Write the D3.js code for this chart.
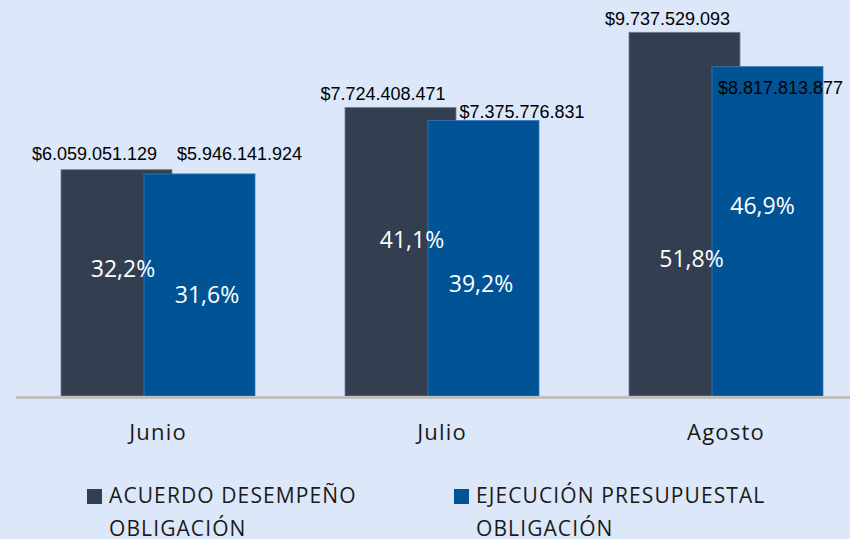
<!DOCTYPE html>
<html>
<head>
<meta charset="utf-8">
<script src="https://cdn.jsdelivr.net/npm/d3@7"></script>
<style>
  html, body { margin: 0; padding: 0; background: #dce8f9; }
  svg { display: block; }
</style>
</head>
<body>
<svg id="chart" width="850" height="539"></svg>
<script>
// ---- data ----
const categories = ["Junio", "Julio", "Agosto"];
const seriesNames = ["ACUERDO DESEMPEÑO OBLIGACIÓN", "EJECUCIÓN PRESUPUESTAL OBLIGACIÓN"];
const acuerdoValues = [6059051129, 7724408471, 9737529093];
const ejecucionValues = [5946141924, 7375776831, 8817813877];
const acuerdoPct = ["32,2%", "41,1%", "51,8%"];
const ejecucionPct = ["31,6%", "39,2%", "46,9%"];

// ---- layout tweaks (label placement, not data) ----
const valueLabelNudge = [
  [[-22, -10], [-17.5, -7], [-17, -7]],
  [[40, -14], [38.5, -3], [13, 27]]
];
const pctLabelPlace = [
  [[6.5, 0.527], [11.5, 0.514], [7, 0.355]],
  [[7.5, 0.42], [-2.5, 0.378], [-5, 0.552]]
];

const colors = ["#333f50", "#005496"];
const strokes = ["#6f7f95", "#3b78b8"];

const svg = d3.select("#chart");
const W = 850, H = 539;
const baseY = 396;

const x = d3.scaleBand().domain(categories).range([16, 868]).paddingInner(0).paddingOuter(0);
const y = d3.scaleLinear().domain([0, 1e10]).range([baseY, baseY - 373.5]);

const groupW = 194, barW = 111;
const offset = groupW - barW;

const loc = d3.formatLocale({decimal: ",", thousands: ".", grouping: [3], currency: ["$", ""]});
const fmt = loc.format("$,.0f");

const series = [acuerdoValues, ejecucionValues];
const pcts = [acuerdoPct, ejecucionPct];

// bars
series.forEach((vals, si) => {
  svg.append("g").selectAll("rect")
    .data(vals)
    .join("rect")
    .attr("x", (d, i) => x(categories[i]) + x.bandwidth() / 2 - groupW / 2 + si * offset)
    .attr("y", d => y(d))
    .attr("width", barW)
    .attr("height", d => baseY - y(d))
    .attr("fill", colors[si])
    .attr("stroke", strokes[si])
    .attr("stroke-width", 0.8);
});

// axis line
const axis = d3.axisBottom(x).tickSize(0).tickPadding(0);
const ax = svg.append("g").attr("transform", `translate(0,${baseY + 1.5})`).call(axis);
ax.select(".domain").remove();
ax.append("line").attr("x1", 16).attr("x2", 850).attr("y1", 0).attr("y2", 0)
  .attr("stroke", "#bfbfbf").attr("stroke-width", 3);
ax.selectAll(".tick text")
  .attr("y", 440 - baseY - 1.5)
  .attr("dy", 0)
  .attr("fill", "#1a1a1a")
  .style("font-family", "'Open Sans', sans-serif")
  .style("font-size", "22px")
  .style("letter-spacing", "1.2px")
  .style("font-weight", "400");

// value labels
series.forEach((vals, si) => {
  svg.append("g").selectAll("text")
    .data(vals)
    .join("text")
    .attr("x", (d, i) => x(categories[i]) + x.bandwidth() / 2 - groupW / 2 + si * offset + barW / 2 + valueLabelNudge[si][i][0])
    .attr("y", (d, i) => y(d) + valueLabelNudge[si][i][1])
    .attr("text-anchor", "middle")
    .attr("fill", "#000")
    .style("font-family", "'Liberation Sans', Arial, sans-serif")
    .style("font-size", "18px")
    .text(d => fmt(d));
});

// percentage labels
series.forEach((vals, si) => {
  svg.append("g").selectAll("text")
    .data(vals)
    .join("text")
    .attr("x", (d, i) => x(categories[i]) + x.bandwidth() / 2 - groupW / 2 + si * offset + barW / 2 + pctLabelPlace[si][i][0])
    .attr("y", (d, i) => y(d * pctLabelPlace[si][i][1]))
    .attr("text-anchor", "middle")
    .attr("fill", "#ffffff")
    .style("font-family", "'Open Sans', sans-serif")
    .style("font-size", "23px")
    .text((d, i) => pcts[si][i]);
});

// legend
const legendX = [87, 454];
const legendLines = [["ACUERDO DESEMPEÑO", "OBLIGACIÓN"], ["EJECUCIÓN PRESUPUESTAL", "OBLIGACIÓN"]];
seriesNames.forEach((name, si) => {
  const g = svg.append("g").attr("transform", `translate(${legendX[si]},0)`);
  g.append("rect").attr("x", 0).attr("y", 489).attr("width", 15).attr("height", 15).attr("fill", colors[si]);
  const t = g.append("text")
    .attr("fill", "#1a1a1a")
    .style("font-family", "'Open Sans', sans-serif")
    .style("font-size", "21px")
    .style("letter-spacing", "1.1px");
  legendLines[si].forEach((ln, li) => {
    t.append("tspan").attr("x", 22).attr("y", 503 + li * 33).text(ln);
  });
});
</script>
</body>
</html>
